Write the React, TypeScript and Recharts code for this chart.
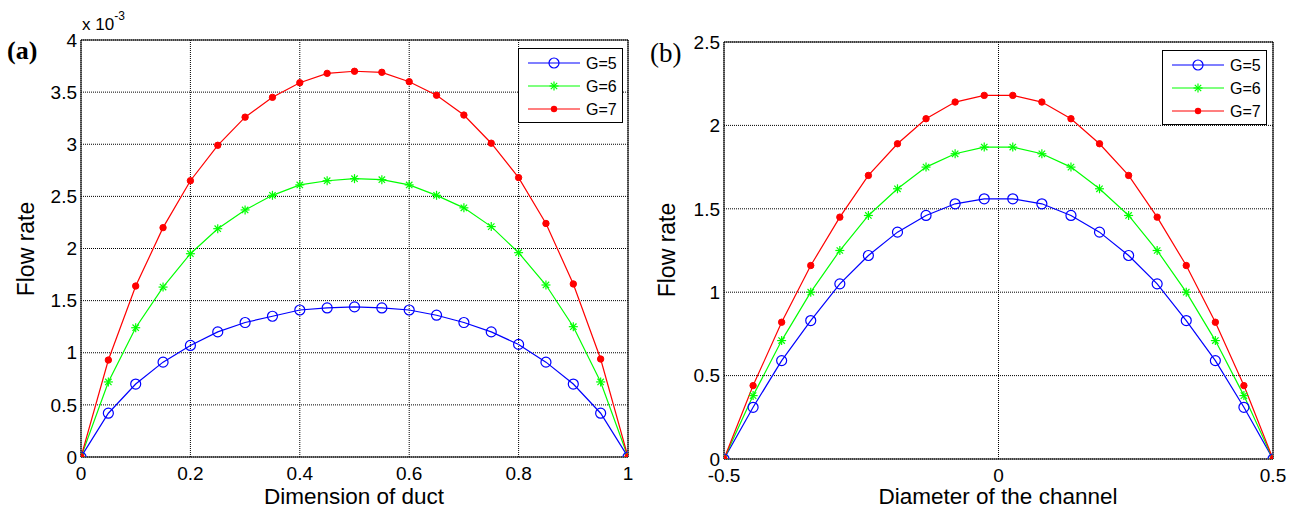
import {
  LineChart, Line, XAxis, YAxis, CartesianGrid, ReferenceLine, Legend,
} from 'recharts';

// (a) flow rate across the duct, values in units of 1e-3
const ductX = [0, 0.05, 0.1, 0.15, 0.2, 0.25, 0.3, 0.35, 0.4, 0.45, 0.5, 0.55, 0.6, 0.65, 0.7, 0.75, 0.8, 0.85, 0.9, 0.95, 1];
const ductG5 = [0, 0.42, 0.70, 0.91, 1.07, 1.20, 1.29, 1.35, 1.41, 1.43, 1.44, 1.43, 1.41, 1.36, 1.29, 1.20, 1.08, 0.91, 0.70, 0.42, 0];
const ductG6 = [0, 0.72, 1.24, 1.63, 1.95, 2.19, 2.37, 2.51, 2.61, 2.65, 2.67, 2.66, 2.61, 2.51, 2.39, 2.21, 1.96, 1.65, 1.25, 0.72, 0];
const ductG7 = [0, 0.93, 1.64, 2.20, 2.65, 2.99, 3.26, 3.45, 3.59, 3.68, 3.70, 3.69, 3.60, 3.47, 3.28, 3.01, 2.68, 2.24, 1.66, 0.94, 0];
const ductXTicks = [0, 0.2, 0.4, 0.6, 0.8, 1];
const ductYTicks = [0, 0.5, 1, 1.5, 2, 2.5, 3, 3.5, 4];

// (b) flow rate across the channel
const chanX = [-0.5, -0.447, -0.395, -0.342, -0.289, -0.237, -0.184, -0.132, -0.079, -0.026,
  0.026, 0.079, 0.132, 0.184, 0.237, 0.289, 0.342, 0.395, 0.447, 0.5];
const chanG5 = [0, 0.31, 0.59, 0.83, 1.05, 1.22, 1.36, 1.46, 1.53, 1.56, 1.56, 1.53, 1.46, 1.36, 1.22, 1.05, 0.83, 0.59, 0.31, 0];
const chanG6 = [0, 0.38, 0.71, 1.00, 1.25, 1.46, 1.62, 1.75, 1.83, 1.87, 1.87, 1.83, 1.75, 1.62, 1.46, 1.25, 1.00, 0.71, 0.38, 0];
const chanG7 = [0, 0.44, 0.82, 1.16, 1.45, 1.70, 1.89, 2.04, 2.14, 2.18, 2.18, 2.14, 2.04, 1.89, 1.70, 1.45, 1.16, 0.82, 0.44, 0];
const chanXTicks = [-0.5, 0, 0.5];
const chanYTicks = [0, 0.5, 1, 1.5, 2, 2.5];

const ductRows = ductX.map((x, i) => ({ x, g5: ductG5[i], g6: ductG6[i], g7: ductG7[i] }));
const chanRows = chanX.map((x, i) => ({ x, g5: chanG5[i], g6: chanG6[i], g7: chanG7[i] }));

const BLUE = '#0000ff';
const GREEN = '#00ff00';
const RED = '#ff0000';
const FONT = '"Liberation Sans", Arial, sans-serif';
const SERIF = '"Liberation Serif", "Times New Roman", serif';

function Ring(p: any) {
  if (p.cx == null) return <g key={p.index} />;
  return <circle key={p.index} cx={p.cx} cy={p.cy} r={5} fill="none" stroke={BLUE} strokeWidth={1.2} />;
}

function Star(p: any) {
  if (p.cx == null) return <g key={p.index} />;
  const { cx, cy } = p;
  const s = 4.5, d = 3.2;
  return (
    <g key={p.index} stroke={GREEN} strokeWidth={1.2}>
      <line x1={cx - s} y1={cy} x2={cx + s} y2={cy} />
      <line x1={cx} y1={cy - s} x2={cx} y2={cy + s} />
      <line x1={cx - d} y1={cy - d} x2={cx + d} y2={cy + d} />
      <line x1={cx - d} y1={cy + d} x2={cx + d} y2={cy - d} />
    </g>
  );
}

function Dot(p: any) {
  if (p.cx == null) return <g key={p.index} />;
  return <circle key={p.index} cx={p.cx} cy={p.cy} r={3.2} fill={RED} stroke={RED} />;
}

function LegendBox() {
  const rows = [
    { name: 'G=5', mk: (x: number, y: number) => <circle cx={x} cy={y} r={5} fill="none" stroke={BLUE} strokeWidth={1.2} />, c: BLUE },
    { name: 'G=6', mk: (x: number, y: number) => Star({ cx: x, cy: y, index: 'l' }), c: GREEN },
    { name: 'G=7', mk: (x: number, y: number) => <circle cx={x} cy={y} r={3.2} fill={RED} />, c: RED },
  ];
  return (
    <svg width={105} height={75} style={{ display: 'block' }}>
      <rect x={0.5} y={0.5} width={104} height={74} fill="#fff" stroke="#000" />
      {rows.map((r, i) => {
        const y = 15 + i * 23;
        return (
          <g key={r.name}>
            <line x1={10} y1={y} x2={62} y2={y} stroke={r.c} strokeWidth={1.2} />
            {r.mk(36, y)}
            <text x={68} y={y + 6} fontSize={16} fontFamily={FONT} fill="#000">{r.name}</text>
          </g>
        );
      })}
    </svg>
  );
}

interface PanelProps {
  data: any[];
  width: number;
  xDomain: [number, number];
  yDomain: [number, number];
  xTicks: number[];
  yTicks: number[];
  top: number;
  right: number;
  yAxisWidth: number;
  xAxisHeight: number;
  legendLeft: number;
  legendTop: number;
}

function Panel(props: PanelProps) {
  const { data, width, xDomain, yDomain, xTicks, yTicks, top, right, yAxisWidth, xAxisHeight, legendLeft, legendTop } = props;
  const tick = { fontSize: 19, fill: '#000', fontFamily: FONT };
  return (
    <LineChart width={width} height={512} data={data} margin={{ top, right, left: 0, bottom: 0 }}>
      <CartesianGrid stroke="#000" strokeDasharray="1 1" />
      <XAxis
        dataKey="x"
        type="number"
        domain={xDomain}
        ticks={xTicks}
        height={xAxisHeight}
        tick={tick}
        tickLine={false}
        tickSize={0}
        tickMargin={10}
        axisLine={{ stroke: '#000' }}
        allowDataOverflow
      />
      <YAxis
        type="number"
        domain={yDomain}
        ticks={yTicks}
        width={yAxisWidth}
        tick={tick}
        tickLine={false}
        tickSize={0}
        tickMargin={4}
        axisLine={{ stroke: '#000' }}
        allowDataOverflow
      />
      <ReferenceLine x={xDomain[1]} stroke="#000" />
      <ReferenceLine y={yDomain[1]} stroke="#000" />
      <Legend
        layout="vertical"
        align="center"
        verticalAlign="middle"
        content={() => <LegendBox />}
        wrapperStyle={{ position: 'absolute', left: legendLeft, top: legendTop, width: 105, height: 75 }}
      />
      <Line type="linear" dataKey="g5" name="G=5" stroke={BLUE} strokeWidth={1.2} dot={Ring} activeDot={false} isAnimationActive={false} />
      <Line type="linear" dataKey="g6" name="G=6" stroke={GREEN} strokeWidth={1.2} dot={Star} activeDot={false} isAnimationActive={false} />
      <Line type="linear" dataKey="g7" name="G=7" stroke={RED} strokeWidth={1.2} dot={Dot} activeDot={false} isAnimationActive={false} />
    </LineChart>
  );
}

const abs = (s: any) => ({ position: 'absolute' as const, fontFamily: FONT, color: '#000', whiteSpace: 'nowrap' as const, lineHeight: 1, ...s });

export default function App() {
  return (
    <div style={{ position: 'absolute', left: 0, top: 0, width: 1296, height: 512, background: '#fff', overflow: 'hidden' }}>
      <div style={{ position: 'absolute', left: 0, top: 0 }}>
        <Panel
          data={ductRows} width={640} xDomain={[0, 1]} yDomain={[0, 4]}
          xTicks={ductXTicks} yTicks={ductYTicks}
          top={40} right={12} yAxisWidth={81} xAxisHeight={55}
          legendLeft={518} legendTop={48}
        />
      </div>
      <div style={{ position: 'absolute', left: 640, top: 0 }}>
        <Panel
          data={chanRows} width={656} xDomain={[-0.5, 0.5]} yDomain={[0, 2.5]}
          xTicks={chanXTicks} yTicks={chanYTicks}
          top={42} right={23} yAxisWidth={84} xAxisHeight={53}
          legendLeft={522} legendTop={50}
        />
      </div>

      <div style={abs({ left: 7, top: 38, fontFamily: SERIF, fontWeight: 'bold', fontSize: 26 })}>(a)</div>
      <div style={abs({ left: 650, top: 40, fontFamily: SERIF, fontSize: 27 })}>(b)</div>
      <div style={abs({ left: 82, top: 16, fontSize: 17 })}>x 10<sup style={{ fontSize: 12, verticalAlign: 'top', position: 'relative', top: -6 }}>-3</sup></div>

      <div style={abs({ left: 354, top: 486, fontSize: 22.5, transform: 'translateX(-50%)' })}>Dimension of duct</div>
      <div style={abs({ left: 998, top: 486, fontSize: 22.5, transform: 'translateX(-50%)' })}>Diameter of the channel</div>
      <div style={abs({ left: 26, top: 249, fontSize: 23, transform: 'translate(-50%, -50%) rotate(-90deg)' })}>Flow rate</div>
      <div style={abs({ left: 667, top: 250, fontSize: 23, transform: 'translate(-50%, -50%) rotate(-90deg)' })}>Flow rate</div>
    </div>
  );
}
